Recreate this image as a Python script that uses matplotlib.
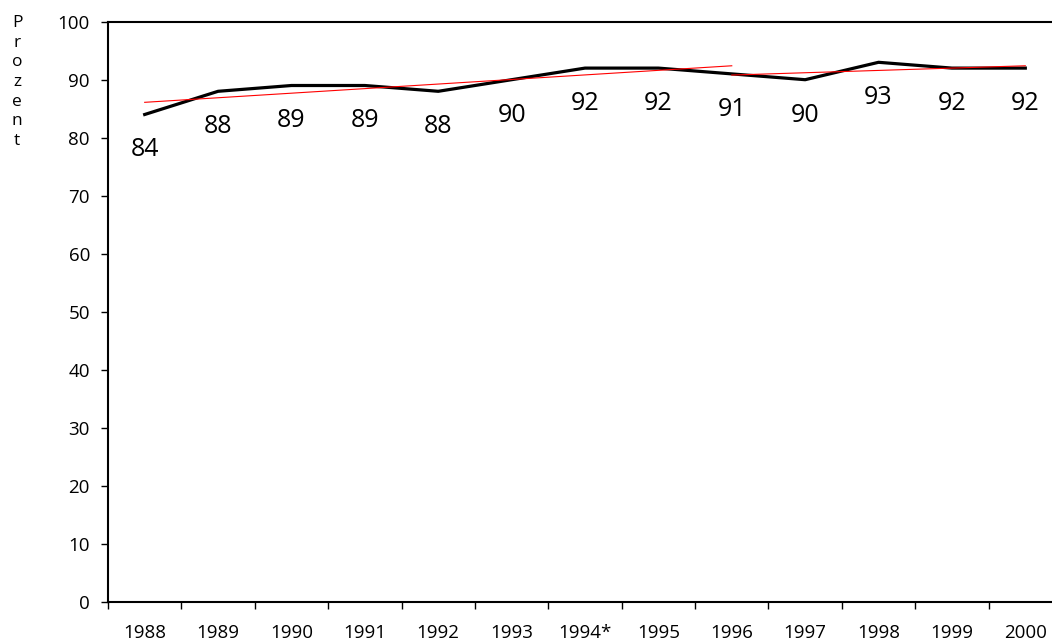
import numpy as np
import matplotlib.pyplot as plt

plt.rcParams['font.family'] = ['Open Sans', 'DejaVu Sans']

# data
years = ['1988', '1989', '1990', '1991', '1992', '1993', '1994*',
         '1995', '1996', '1997', '1998', '1999', '2000']
prozent = [84, 88, 89, 89, 88, 90, 92, 92, 91, 90, 93, 92, 92]

# trend lines (start/end values as drawn)
trend1_idx = [0, 8]
trend1_val = [86.1, 92.4]
trend2_idx = [8, 12]
trend2_val = [90.8, 92.4]

x = np.arange(len(years))

fig = plt.figure(figsize=(10.52, 6.42), dpi=100)
ax = fig.add_axes([108 / 1052, 40.3 / 642, 954 / 1052, 580 / 642])

ax.plot(x, prozent, color='black', linewidth=2.3, zorder=3)
ax.plot(trend1_idx, trend1_val, color='red', linewidth=0.8, zorder=4)
ax.plot(trend2_idx, trend2_val, color='red', linewidth=0.8, zorder=4)

# value labels below the points
for xi, v in zip(x, prozent):
    ax.text(xi, v - 6.1, str(v), ha='center', va='center', fontsize=18)

ax.set_xlim(-0.5, len(years) - 0.5)
ax.set_ylim(0, 100)
ax.set_yticks(np.arange(0, 101, 10))
ax.tick_params(axis='y', direction='out', length=5, width=1, pad=8, labelsize=13.5)

# ticks between categories, labels at the centres
ax.set_xticks(np.arange(-0.5, len(years), 1.0))
ax.set_xticklabels([])
ax.set_xticks(x, minor=True)
ax.set_xticklabels(years, minor=True)
ax.tick_params(axis='x', which='major', direction='out', length=5, width=1)
ax.tick_params(axis='x', which='minor', length=0, pad=16, labelsize=13.5)

for s in ['left', 'bottom', 'top']:
    ax.spines[s].set_linewidth(1.5)
ax.spines['right'].set_visible(False)

fig.text(17 / 1052, 1 - 82 / 642, '\n'.join('Prozent'), ha='center', va='center',
         fontsize=12.5, linespacing=1.3)

fig.savefig('out.png', dpi=100)
